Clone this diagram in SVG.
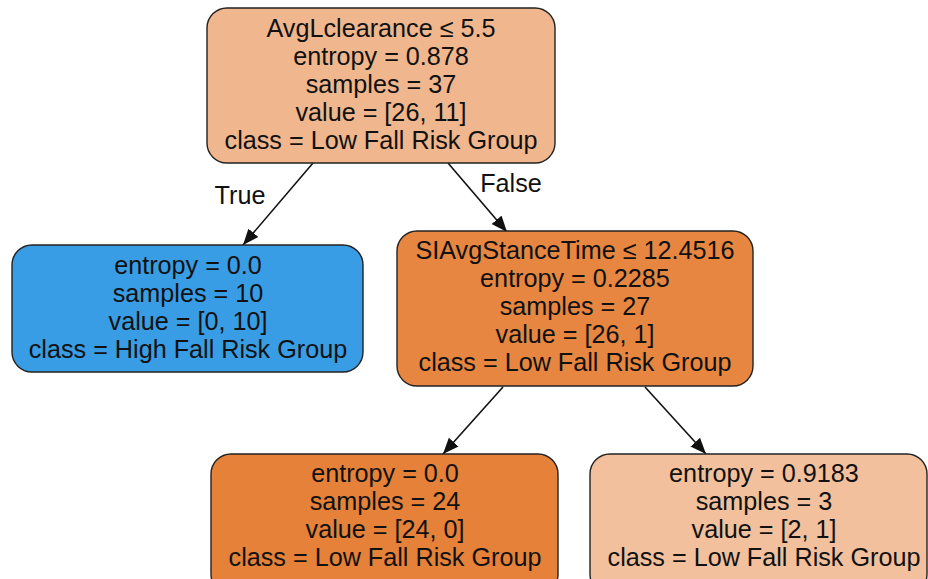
<svg xmlns="http://www.w3.org/2000/svg" width="928" height="579" viewBox="0 0 928 579">
<style>
.node rect{stroke:#222;stroke-width:1.4}
text{font-family:"Liberation Sans",Arial,Helvetica,sans-serif;font-size:25.2px;fill:#111;text-anchor:middle}
.edge line{stroke:#111;stroke-width:1.6}
</style>
<defs>
<marker id="arr" markerUnits="userSpaceOnUse" markerWidth="18" markerHeight="14" refX="16" refY="7" orient="auto">
<path d="M0,0.5 L16,7 L0,13.5 z" fill="#111"/>
</marker>
</defs>
<rect width="928" height="579" fill="#fff"/>
<g id="connectors" class="edge">
<line x1="313" y1="163" x2="243" y2="245" marker-end="url(#arr)"/>
<line x1="448" y1="163" x2="507" y2="232" marker-end="url(#arr)"/>
<line x1="503" y1="387" x2="443" y2="454" marker-end="url(#arr)"/>
<line x1="645" y1="387" x2="706" y2="454" marker-end="url(#arr)"/>
<text x="240" y="204">True</text>
<text x="511" y="192">False</text>
</g>
<g id="node0" class="node">
<rect x="207" y="8" width="348" height="155" rx="20" fill="#f0b68d"/>
<text x="381" y="37">AvgLclearance ≤ 5.5</text>
<text x="381" y="65">entropy = 0.878</text>
<text x="381" y="93">samples = 37</text>
<text x="381" y="121">value = [26, 11]</text>
<text x="381" y="149">class = Low Fall Risk Group</text>
</g>
<g id="node1" class="node">
<rect x="12" y="245" width="351" height="127" rx="20" fill="#399de5"/>
<text x="188" y="274">entropy = 0.0</text>
<text x="188" y="302">samples = 10</text>
<text x="188" y="330">value = [0, 10]</text>
<text x="188" y="358">class = High Fall Risk Group</text>
</g>
<g id="node2" class="node">
<rect x="397" y="231" width="356" height="155" rx="20" fill="#e68641"/>
<text x="575" y="259">SIAvgStanceTime ≤ 12.4516</text>
<text x="575" y="287">entropy = 0.2285</text>
<text x="575" y="315">samples = 27</text>
<text x="575" y="343">value = [26, 1]</text>
<text x="575" y="371">class = Low Fall Risk Group</text>
</g>
<g id="node3" class="node">
<rect x="211" y="454" width="347" height="140" rx="20" fill="#e58139"/>
<text x="385" y="482">entropy = 0.0</text>
<text x="385" y="510">samples = 24</text>
<text x="385" y="538">value = [24, 0]</text>
<text x="385" y="566">class = Low Fall Risk Group</text>
</g>
<g id="node4" class="node">
<rect x="590" y="454" width="337" height="140" rx="20" fill="#f2c09c"/>
<text x="764" y="482">entropy = 0.9183</text>
<text x="764" y="510">samples = 3</text>
<text x="764" y="538">value = [2, 1]</text>
<text x="764" y="566">class = Low Fall Risk Group</text>
</g>
</svg>
